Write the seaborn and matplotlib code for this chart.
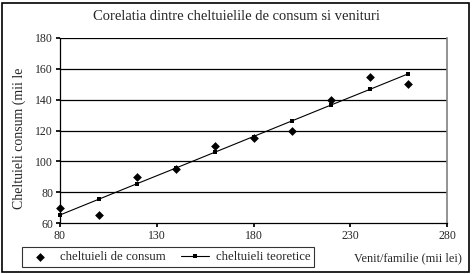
import matplotlib
matplotlib.use("Agg")
import matplotlib.pyplot as plt
import seaborn as sns
import pandas as pd
from matplotlib.patches import Rectangle

venit = [80, 100, 120, 140, 160, 180, 200, 220, 240, 260]
cheltuieli_consum = [70, 65, 90, 95, 110, 115, 120, 140, 155, 150]
cheltuieli_teoretice = [65.2, 75.4, 85.6, 95.7, 105.9, 116.1, 126.3, 136.5, 146.6, 156.8]
x_ticks = [80, 130, 180, 230, 280]
y_ticks = [60, 80, 100, 120, 140, 160, 180]

df = pd.DataFrame({"venit": venit, "consum": cheltuieli_consum, "teoretic": cheltuieli_teoretice})

sns.set_theme(style="white")
plt.rcParams['font.family'] = ['Liberation Serif', 'DejaVu Serif']

fig = plt.figure(figsize=(4.72, 2.74), dpi=100)
ax = fig.add_axes([60/472, 1-223/274, (447-60)/472, (223-38)/274])

sns.lineplot(data=df, x="venit", y="teoretic", ax=ax, color="black", lw=0.8,
             marker="s", markersize=3.5, markeredgewidth=0, label="cheltuieli teoretice",
             zorder=3, clip_on=False)
sns.scatterplot(data=df, x="venit", y="consum", ax=ax, color="black", marker="D",
                s=20, linewidth=0, label="cheltuieli de consum", zorder=4, clip_on=False)

ax.set_xlim(80, 280)
ax.set_ylim(60, 180)
ax.set_xticks(x_ticks)
ax.set_yticks(y_ticks)
ax.tick_params(axis="both", labelsize=8.5, length=3, color="black", direction="out",
               bottom=True, left=True, pad=2)
for y in y_ticks[1:]:
    ax.axhline(y, color="black", lw=0.9, zorder=1)
for s in ["left", "bottom"]:
    ax.spines[s].set_color("black")
    ax.spines[s].set_linewidth(0.9)
ax.spines["right"].set_color("#808080")
ax.spines["right"].set_linewidth(1.2)
ax.spines["top"].set_visible(False)
ax.set_xlabel("")
ax.set_ylabel("")

fig.text(236/472, 1-17/274, "Corelatia dintre cheltuielile de consum si venituri",
         ha="center", va="center", fontsize=10.5)
fig.text(19/472, 1-138/274, "Cheltuieli consum (mii le", rotation=90,
         ha="center", va="center", fontsize=10)
fig.text(462/472, 1-258/274, "Venit/familie (mii lei)", ha="right", va="center", fontsize=8.8)

handles, labels = ax.get_legend_handles_labels()
order = [1, 0]
leg = fig.legend([handles[i] for i in order], [labels[i] for i in order],
                 loc="center", bbox_to_anchor=(168/472, 1-257/274), ncol=2,
                 frameon=True, fancybox=False, edgecolor="black", fontsize=9.2,
                 handlelength=2.2, columnspacing=1.2, borderpad=0.3, handletextpad=0.5)
leg.get_frame().set_linewidth(0.8)
if ax.get_legend():
    ax.get_legend().remove()

fig.patches.append(Rectangle((2/472, 2/274), 467/472, 269/274, transform=fig.transFigure,
                             fill=False, edgecolor="black", lw=1.2))

fig.savefig("out.png", dpi=100)
